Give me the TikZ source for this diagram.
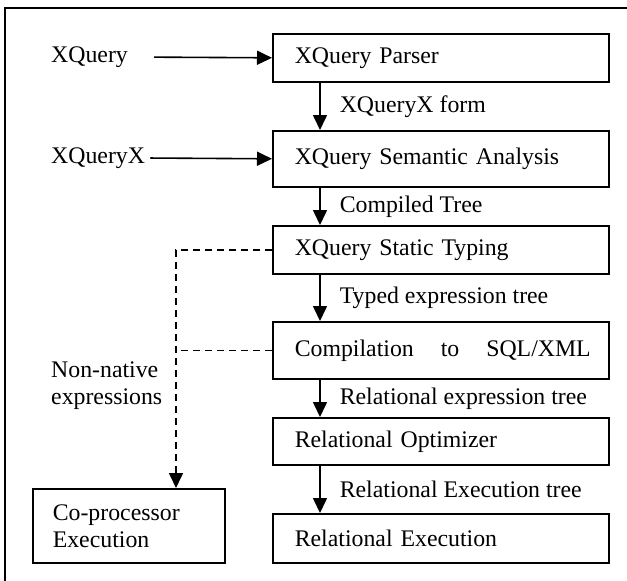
\documentclass[tikz,border=0pt]{standalone}
\usepackage{fontspec}
\setmainfont{Liberation Serif}
\usetikzlibrary{arrows.meta,positioning}
\tikzset{
  every picture/.style={line join=miter, >={Triangle[length=15pt,width=14pt]}},
  stage/.style={draw,line width=1.6pt,minimum width=336pt,text width=292pt,inner xsep=22pt,align=left,anchor=north west},
  lbl/.style={anchor=west,inner sep=0pt},
  flow/.style={->,line width=1.6pt},
  nonnative/.style={->,dash pattern=on 7pt off 5pt,line width=1.6pt},
}

\begin{document}
\begin{tikzpicture}[x=1pt,y=-1pt,font=\fontsize{23.8pt}{27pt}\selectfont]
\useasboundingbox (0,0) rectangle (627,581);
% frame
\draw[line width=1.2pt] (627,8) -- (5,8) -- (5,581);
% pipeline
\node[stage,minimum height=48pt] (parser) at (272,33) {XQuery Parser};
\node[stage,minimum height=56pt] (semantic) at (272,130) {XQuery Semantic Analysis};
\node[stage,minimum height=48pt] (typing) at (272,225) {XQuery Static Typing};
\node[stage,minimum height=57pt] (compile) at (272,321) {\mbox{Compilation\hspace{27pt}to\hspace{27pt}SQL/XML}};
\node[stage,minimum height=47pt] (optimizer) at (272,417) {Relational Optimizer};
\node[stage,minimum height=49pt] (exec) at (272,513) {Relational Execution};
\node[draw,line width=1.6pt,minimum width=192pt,minimum height=74pt,text width=152pt,inner xsep=20pt,align=left,anchor=north west] (copro) at (32,488) {Co-processor\\Execution};
% inputs
\node[lbl] (xq) at (51,57) {XQuery};
\node[lbl] (xqx) at (51,158) {XQueryX};
\node[lbl,align=left] (nn) at (51,386) {Non-native\\expressions};
\coordinate (ax) at (320,0);
\coordinate (dx) at (176,0);
\draw[flow,shorten <=26pt] (xq.east) -- (parser.west);
\draw[flow,shorten <=5pt] (xqx.east) -- (semantic.west);
\draw[flow] (parser.south -| ax) -- node[lbl,right=19pt]{XQueryX form} (semantic.north -| ax);
\draw[flow] (semantic.south -| ax) -- node[lbl,right=19pt]{Compiled Tree} (typing.north -| ax);
\draw[flow] (typing.south -| ax) -- node[lbl,right=19pt]{Typed expression tree} (compile.north -| ax);
\draw[flow] (compile.south -| ax) -- node[lbl,right=19pt]{Relational expression tree} (optimizer.north -| ax);
\draw[flow] (optimizer.south -| ax) -- node[lbl,right=19pt]{Relational Execution tree} (exec.north -| ax);
% non-native path
\draw[nonnative] (typing.west) -- (typing.west -| dx) -- (copro.north -| dx);
\draw[nonnative,-] (compile.west) -- (compile.west -| dx);
\end{tikzpicture}
\end{document}
